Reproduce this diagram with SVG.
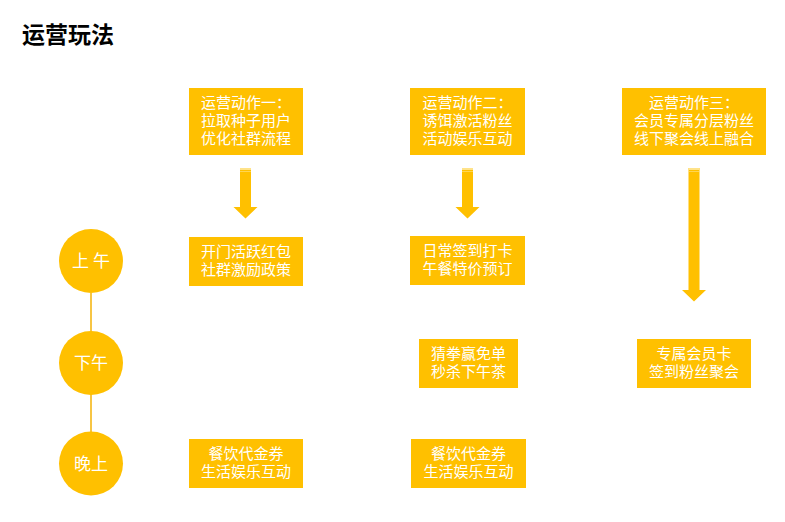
<svg xmlns="http://www.w3.org/2000/svg" width="785" height="522" viewBox="0 0 785 522">
<defs>
<style>
.box{fill:#FFC000;}
.t{font-family:"Noto Sans CJK SC","Noto Sans",sans-serif;font-size:15px;fill:#FFFFFF;text-anchor:middle;}
.ct{font-family:"Noto Sans CJK SC","Noto Sans",sans-serif;font-size:17px;fill:#FFFFFF;text-anchor:middle;}
.circ{fill:#FFC000;}
.link{stroke:#F7C544;stroke-width:2;fill:none;}
.arrow{fill:#FFC000;}
.band{fill:#FFE38A;}
</style>
</defs>
<rect width="785" height="522" fill="#FFFFFF"/>
<text x="22" y="43" font-family="'Noto Sans CJK SC','Noto Sans',sans-serif" font-size="23" font-weight="bold" fill="#000000">运营玩法</text>

<g id="connectors">
<line class="link" x1="91" y1="293" x2="91" y2="332"/>
<line class="link" x1="91" y1="394" x2="91" y2="432"/>
<g id="arrow1">
<path class="arrow" d="M240,168 H251 V207 H257.5 L245.5,218.5 L233.5,207 H240 Z"/>
<rect class="band" x="240" y="168" width="11" height="2"/>
<rect class="band" x="240" y="171" width="11" height="1" opacity="0.6"/>
</g>
<g id="arrow2">
<path class="arrow" d="M462,168 H473 V207 H479.5 L467.5,218.5 L455.5,207 H462 Z"/>
<rect class="band" x="462" y="168" width="11" height="2"/>
<rect class="band" x="462" y="171" width="11" height="1" opacity="0.6"/>
</g>
<g id="arrow3">
<path class="arrow" d="M688.5,168 H699.5 V290 H706 L694,301.5 L682,290 H688.5 Z"/>
<rect class="band" x="688.5" y="168" width="11" height="2"/>
<rect class="band" x="688.5" y="171" width="11" height="1" opacity="0.6"/>
</g>
</g>

<g id="am">
<circle class="circ" cx="91" cy="261" r="32"/>
<text class="ct" x="91" y="267">上 午</text>
</g>
<g id="pm">
<circle class="circ" cx="91" cy="363" r="32"/>
<text class="ct" x="91" y="369">下午</text>
</g>
<g id="eve">
<circle class="circ" cx="91" cy="463.5" r="32"/>
<text class="ct" x="91" y="469.5">晚上</text>
</g>

<g id="action1">
<rect class="box" x="189" y="88" width="114" height="67"/>
<text class="t" x="246" y="108"><tspan x="246">运营动作一：</tspan><tspan x="246" dy="18">拉取种子用户</tspan><tspan x="246" dy="18">优化社群流程</tspan></text>
</g>
<g id="action2">
<rect class="box" x="410" y="88" width="115" height="67"/>
<text class="t" x="467.5" y="108"><tspan x="467.5">运营动作二：</tspan><tspan x="467.5" dy="18">诱饵激活粉丝</tspan><tspan x="467.5" dy="18">活动娱乐互动</tspan></text>
</g>
<g id="action3">
<rect class="box" x="622" y="88" width="144" height="67"/>
<text class="t" x="694" y="108"><tspan x="694">运营动作三：</tspan><tspan x="694" dy="18">会员专属分层粉丝</tspan><tspan x="694" dy="18">线下聚会线上融合</tspan></text>
</g>

<g id="b1">
<rect class="box" x="189" y="237" width="114" height="49"/>
<text class="t" x="246" y="257"><tspan x="246">开门活跃红包</tspan><tspan x="246" dy="18">社群激励政策</tspan></text>
</g>
<g id="b2">
<rect class="box" x="410" y="236" width="115" height="49"/>
<text class="t" x="467.5" y="256"><tspan x="467.5">日常签到打卡</tspan><tspan x="467.5" dy="18">午餐特价预订</tspan></text>
</g>
<g id="c2">
<rect class="box" x="419" y="339" width="99" height="49"/>
<text class="t" x="468.5" y="359"><tspan x="468.5">猜拳赢免单</tspan><tspan x="468.5" dy="18">秒杀下午茶</tspan></text>
</g>
<g id="c3">
<rect class="box" x="637" y="339" width="114" height="49"/>
<text class="t" x="694" y="359"><tspan x="694">专属会员卡</tspan><tspan x="694" dy="18">签到粉丝聚会</tspan></text>
</g>
<g id="d1">
<rect class="box" x="189" y="439" width="114" height="49"/>
<text class="t" x="246" y="459"><tspan x="246">餐饮代金券</tspan><tspan x="246" dy="18">生活娱乐互动</tspan></text>
</g>
<g id="d2">
<rect class="box" x="411" y="439" width="115" height="49"/>
<text class="t" x="468.5" y="459"><tspan x="468.5">餐饮代金券</tspan><tspan x="468.5" dy="18">生活娱乐互动</tspan></text>
</g>
</svg>
